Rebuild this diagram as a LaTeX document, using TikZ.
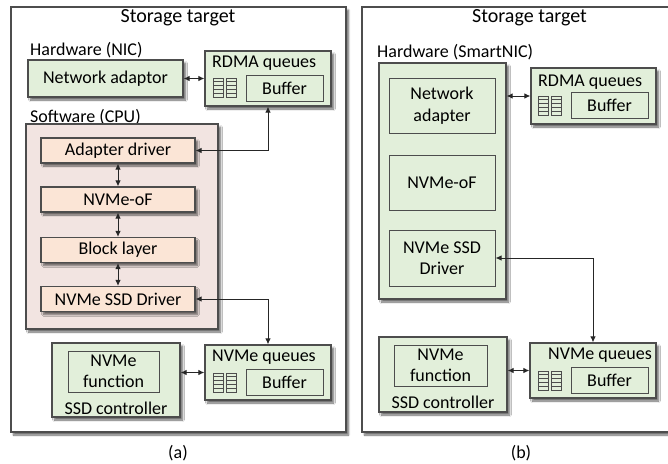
\documentclass[tikz,border=0pt]{standalone}
\usepackage{fontspec}
\setmainfont{Carlito}
\usetikzlibrary{arrows.meta,shadows.blur}
\definecolor{boxgreen}{HTML}{E2EFDA}
\definecolor{swpink}{HTML}{F2E4E1}
\definecolor{laborange}{HTML}{FBE5D6}
\definecolor{edgegray}{HTML}{4D4D4D}
\begin{document}
\begin{tikzpicture}[x=1pt,y=-1pt,
  shadowed/.style={blur shadow={shadow xshift=2.5pt,shadow yshift=-3pt,shadow blur steps=6,shadow opacity=60}},
  txt/.style={inner sep=0pt,font=\fontsize{18}{21.5}\selectfont},
  title/.style={inner sep=0pt,font=\fontsize{20}{24}\selectfont},
  panel/.style={draw=edgegray,line width=1.3pt,fill=white,shadowed,inner sep=0pt,minimum width=335pt,minimum height=425pt},
  greenbox/.style={draw=edgegray,line width=1.2pt,fill=boxgreen,shadowed,inner sep=0pt,font=\fontsize{18}{21.5}\selectfont},
  pinkbox/.style={draw=edgegray,line width=1.2pt,fill=swpink,shadowed,inner sep=0pt},
  orangebox/.style={draw=edgegray,line width=1.1pt,fill=laborange,shadowed,inner sep=0pt,minimum width=154pt,minimum height=25pt,font=\fontsize{18}{21.5}\selectfont},
  innerbox/.style={draw=edgegray,line width=1pt,fill=boxgreen,inner sep=0pt,align=center,font=\fontsize{18}{21.5}\selectfont},
  bufbox/.style={innerbox,minimum width=77pt,minimum height=26pt},
  iconline/.style={draw=edgegray,line width=0.8pt},
  conn/.style={{Latex[length=6pt,width=5.5pt]}-{Latex[length=6pt,width=5.5pt]},line width=1pt,draw=black!85},
  queueicon/.pic={
    \foreach \dx in {0,13}{
      \draw[iconline] (\dx,0) rectangle ++(10,19);
      \foreach \k in {1,...,4} \draw[iconline] (\dx,3.8*\k) -- ++(10,0);
    }
  }]
\useasboundingbox (0,0) rectangle (668,463);
\clip (0,0) rectangle (668,463);

% ---------------- panel (a) ----------------
\node[panel] (panelA) at (178.5,219.5) {};
\node[title] (titleA) at (178,18) {Storage target};
\node[txt,anchor=west] (hwA) at (30,50) {Hardware (NIC)};
\node[greenbox,minimum width=155pt,minimum height=37pt] (netA) at (105.5,78.5) {Network adaptor};
\node[greenbox,minimum width=126pt,minimum height=55pt] (rdmaA) at (268,78.5) {};
\node[txt,anchor=west] (rdmaAt) at (212,63) {RDMA queues};
\node[bufbox] (bufA) at (284.5,88) {Buffer};
\pic at (213,78) {queueicon};

\node[txt,anchor=west] (swAt) at (30,117) {Software (CPU)};
\node[pinkbox,minimum width=192pt,minimum height=205pt] (swA) at (122,226.5) {};
\node[orangebox] (adA) at (118,150.5) {Adapter driver};
\node[orangebox] (nofA) at (118,199.5) {NVMe-oF};
\node[orangebox] (blkA) at (118,250) {Block layer};
\node[orangebox] (drvA) at (118,299) {NVMe SSD Driver};

\node[greenbox,minimum width=128pt,minimum height=74pt] (ssdA) at (116,380) {};
\node[innerbox,minimum width=91pt,minimum height=41pt] (fnA) at (113.5,371.5) {NVMe\\function};
\node[txt] (ssdAt) at (116,408) {SSD controller};
\node[greenbox,minimum width=126pt,minimum height=55pt] (nvqA) at (268,372.5) {};
\node[txt,anchor=west] (nvqAt) at (212,357) {NVMe queues};
\node[bufbox] (bufA2) at (284.5,382.5) {Buffer};
\pic at (213,373) {queueicon};
\node[txt] (capA) at (178,453) {(a)};

\draw[conn] (netA.east) -- (netA.east -| rdmaA.west);
\draw[conn] (rdmaA.south) |- (adA.east);
\draw[conn] (adA.south) -- (nofA.north);
\draw[conn] (nofA.south) -- (blkA.north);
\draw[conn] (blkA.south) -- (drvA.north);
\draw[conn] (drvA.east) -| (nvqA.north);
\draw[conn] (ssdA.east |- nvqA.west) -- (nvqA.west);

% ---------------- panel (b) ----------------
\node[panel] (panelB) at (529.5,219.5) {};
\node[title] (titleB) at (529.5,18) {Storage target};
\node[txt,anchor=west] (hwB) at (377,52) {Hardware (SmartNIC)};
\node[greenbox,minimum width=127pt,minimum height=236pt] (snic) at (442.5,181) {};
\node[innerbox,minimum width=106pt,minimum height=55pt] (netB) at (442,105.5) {Network\\adapter};
\node[innerbox,minimum width=106pt,minimum height=55pt] (nofB) at (442,182.5) {NVMe-oF};
\node[innerbox,minimum width=106pt,minimum height=56pt] (drvB) at (442,258) {NVMe SSD\\Driver};
\node[greenbox,minimum width=125pt,minimum height=56pt] (rdmaB) at (593.5,96) {};
\node[txt,anchor=west] (rdmaBt) at (538,82) {RDMA queues};
\node[bufbox] (bufB) at (609.5,105.5) {Buffer};
\pic at (538,96) {queueicon};

\node[greenbox,minimum width=128pt,minimum height=75pt] (ssdB) at (443,374.5) {};
\node[innerbox,minimum width=93pt,minimum height=41pt] (fnB) at (440.5,365.5) {NVMe\\function};
\node[txt] (ssdBt) at (443,402) {SSD controller};
\node[greenbox,minimum width=126pt,minimum height=55pt] (nvqB) at (593,370.5) {};
\node[txt,anchor=east] (nvqBt) at (652,355) {NVMe queues};
\node[bufbox] (bufB2) at (609.5,380.5) {Buffer};
\pic at (538,371) {queueicon};
\node[txt] (capB) at (521,453) {(b)};

\draw[conn] (snic.east |- rdmaB.west) -- (rdmaB.west);
\draw[conn] (drvB.east) -| (nvqB.north);
\draw[conn] (ssdB.east |- nvqB.west) -- (nvqB.west);
\end{tikzpicture}
\end{document}
